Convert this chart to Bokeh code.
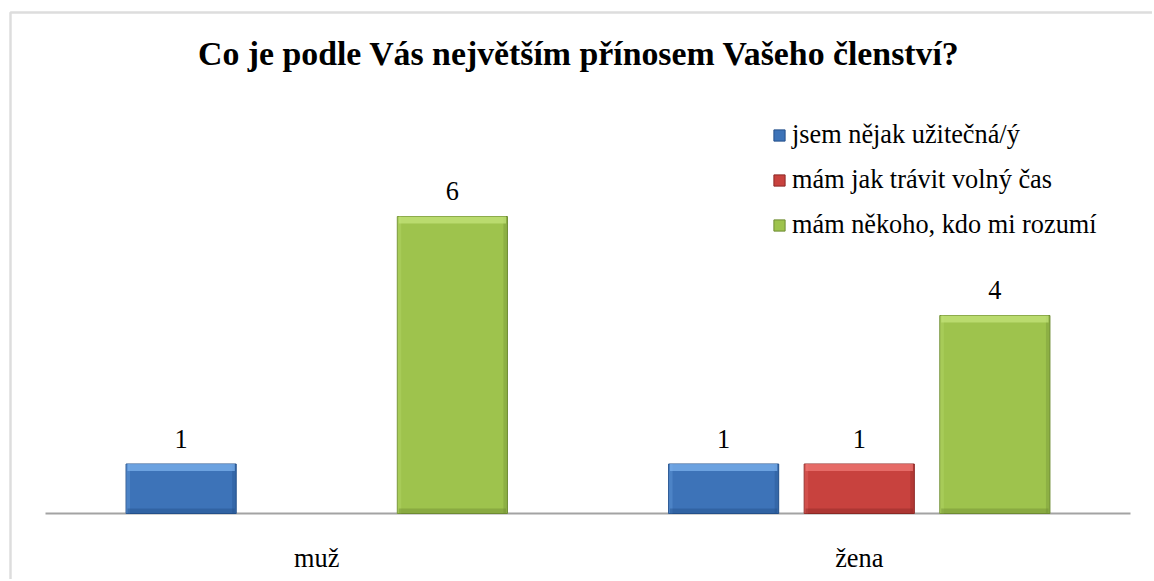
from bokeh.plotting import figure
from bokeh.models import (ColumnDataSource, FactorRange, Range1d, Label, Legend,
                          LegendItem, BoxAnnotation)
from bokeh.transform import dodge
from bokeh.core.properties import value
from bokeh.embed import file_html
from bokeh.resources import INLINE

# ---- data ----
categories = ["muž", "žena"]
series_names = ["jsem nějak užitečná/ý", "mám jak trávit volný čas", "mám někoho, kdo mi rozumí"]
values_uzitecna = [1, 1]
values_volny_cas = [0, 1]
values_rozumi = [6, 4]
title_text = "Co je podle Vás největším přínosem Vašeho členství?"

# ---- styles / layout constants ----
FONT = "Liberation Serif"
TXT = "26.3px"
body_colors = ["#3d73b8", "#c8423e", "#9ec34d"]
light_colors = ["#7cb2ee", "#f07a76", "#c3e37a"]
dark_colors = ["#24508a", "#8c2825", "#6e8c33"]
offsets = [-0.25, 0.0, 0.25]
BAR_W = 0.203
W, H = 1152, 579
PLOT_LEFT, PLOT_RIGHT = 45, 1130     # Excel plot area, canvas px
BASE = 513                           # baseline, canvas px
PX = 49.5                            # px per value unit

unit = (PLOT_RIGHT - PLOT_LEFT) / 2
pad = (W / unit - 2) / 2
shift = ((PLOT_LEFT + PLOT_RIGHT) / 2 - W / 2) / unit
edge = 4 / unit                      # side bevel width in category units

p = figure(width=W, height=H,
           x_range=FactorRange(factors=categories, range_padding=pad,
                               range_padding_units="absolute"),
           y_range=Range1d(-(H - BASE) / PX, BASE / PX),
           output_backend="svg", toolbar_location=None,
           x_axis_location=None, y_axis_location=None,
           min_border_left=0, min_border_right=0,
           min_border_top=0, min_border_bottom=0)
p.outline_line_color = None
p.xgrid.visible = False
p.ygrid.visible = False
p.background_fill_color = "white"
p.border_fill_color = "white"

# category axis line and labels
axis_src = ColumnDataSource(dict(cat=categories, zero=[0 for _ in categories]))
p.segment(x0=dodge("cat", -0.5 + shift, range=p.x_range), y0="zero",
          x1=dodge("cat", 0.5 + shift, range=p.x_range), y1="zero",
          source=axis_src, line_color="#a3a3a3", line_width=2)
p.text(x=dodge("cat", shift, range=p.x_range), y="zero", text="cat",
       source=axis_src, y_offset=45, text_align="center",
       text_baseline="middle", text_font=value(FONT), text_font_size=TXT,
       text_color="black")

all_values = [values_uzitecna, values_volny_cas, values_rozumi]
legend_items = []
hi = 7 / PX
lo = 5 / PX
for i, vals in enumerate(all_values):
    src = ColumnDataSource(dict(
        cat=[c for c, v in zip(categories, vals) if v > 0],
        val=[v for v in vals if v > 0],
        hi_bot=[v - hi for v in vals if v > 0],
        lo_top=[min(lo, v) for v in vals if v > 0],
        zero=[0 for v in vals if v > 0],
        label=[str(v) for v in vals if v > 0],
    ))
    xd = dodge("cat", offsets[i] + shift, range=p.x_range)
    r = p.vbar(x=xd, top="val", bottom="zero", width=BAR_W, source=src,
               fill_color=body_colors[i], line_color=dark_colors[i], line_width=1)
    # side bevels
    p.vbar(x=dodge("cat", offsets[i] + shift - BAR_W / 2 + edge / 2, range=p.x_range),
           top="val", bottom="zero", width=edge, source=src,
           fill_color=light_colors[i], fill_alpha=0.25, line_color=None)
    p.vbar(x=dodge("cat", offsets[i] + shift + BAR_W / 2 - edge / 2, range=p.x_range),
           top="val", bottom="zero", width=edge, source=src,
           fill_color=dark_colors[i], fill_alpha=0.35, line_color=None)
    # top and bottom bevels
    p.vbar(x=xd, top="val", bottom="hi_bot", width=BAR_W * 0.975, source=src,
           fill_color=light_colors[i], fill_alpha=0.75, line_color=None)
    p.vbar(x=xd, top="lo_top", bottom="zero", width=BAR_W * 0.975, source=src,
           fill_color=dark_colors[i], fill_alpha=0.45, line_color=None)
    p.text(x=xd, y="val", text="label", source=src, y_offset=-25.5,
           text_align="center", text_baseline="middle",
           text_font=value(FONT), text_font_size=TXT, text_color="black")
    legend_items.append(LegendItem(label=series_names[i], renderers=[r]))

legend = Legend(items=legend_items, location=(772, H - 240),
                label_text_font=FONT, label_text_font_size=TXT,
                label_text_color="black",
                glyph_width=14, glyph_height=14, label_standoff=6,
                label_height=30, spacing=15, padding=0, margin=0,
                border_line_color=None, background_fill_alpha=0)
p.add_layout(legend, "center")

p.add_layout(Label(x=578.5, y=H - 53, x_units="screen", y_units="screen",
                   text=title_text, text_align="center",
                   text_baseline="middle", text_font=FONT,
                   text_font_size="33.8px", text_font_style="bold",
                   text_color="black"))

p.add_layout(BoxAnnotation(left=10, right=5000, top=12, bottom=5000,
                           left_units="canvas", right_units="canvas",
                           top_units="canvas", bottom_units="canvas",
                           fill_alpha=0, line_color="#8f8f8f", line_width=2.5))

open("out.html", "w").write(file_html(p, INLINE))
